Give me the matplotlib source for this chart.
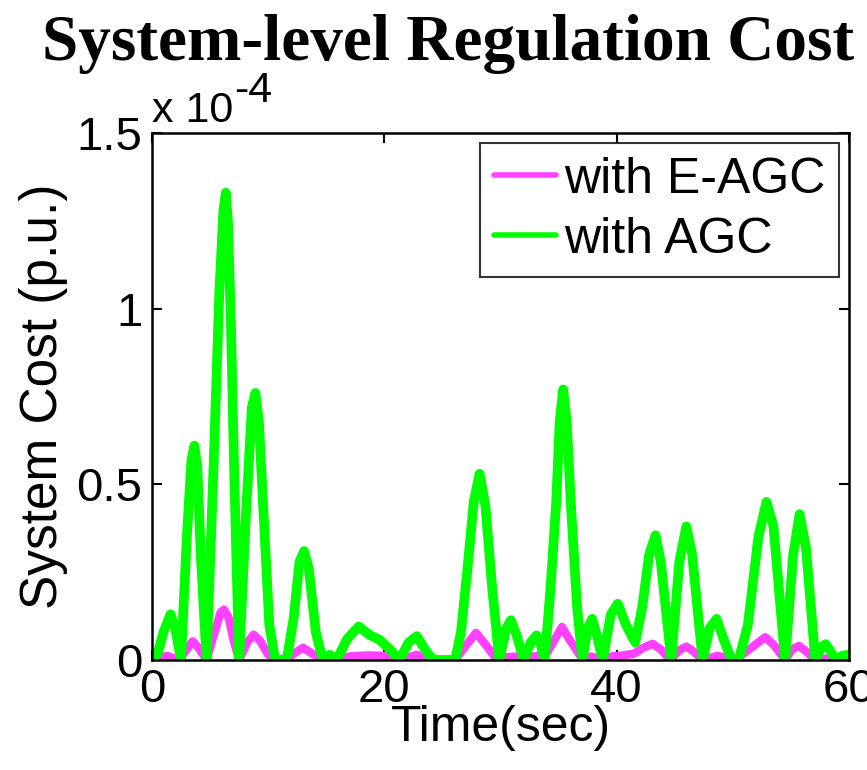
import matplotlib
matplotlib.use("Agg")
import matplotlib.pyplot as plt

# time (s) and cost values (in units of 1e-4 p.u.)
t_agc = [0, 0.5, 1.0, 1.6, 2.0, 2.5, 3.0, 3.4, 3.65, 3.9, 4.2, 4.7, 5.3, 5.8, 6.15,
         6.35, 6.55, 6.8, 7.1, 7.5, 8.1, 8.6, 8.9, 9.2, 9.6, 10.1, 10.6, 11.6, 12.2,
         12.7, 13.1, 13.5, 14.1, 14.7, 15.3, 15.9, 16.8, 17.8, 18.8, 19.6, 20.5, 21.3,
         22.1, 22.8, 23.5, 24.2, 26.1, 26.6, 27.1, 27.7, 28.2, 28.7, 29.3, 29.9, 30.5,
         30.9, 31.4, 32.0, 32.6, 33.1, 33.5, 33.8, 34.3, 34.8, 35.1, 35.4, 35.7, 36.1,
         36.6, 37.05, 37.5, 37.9, 38.3, 38.8, 39.5, 40.1, 40.8, 41.6, 42.2, 42.8, 43.35,
         43.8, 44.7, 45.4, 46.0, 46.5, 47.4, 48.0, 48.6, 49.2, 49.9, 50.5, 51.3, 52.2,
         52.9, 53.5, 54.5, 55.2, 55.75, 56.3, 57.1, 57.6, 58.0, 58.5, 58.9, 59.4, 60.0]
cost_agc = [0.0, 0.02, 0.08, 0.13, 0.09, 0.0, 0.35, 0.57, 0.61, 0.55, 0.3, 0.0, 0.55,
            1.05, 1.28, 1.33, 1.24, 0.95, 0.5, 0.0, 0.42, 0.72, 0.76, 0.68, 0.42, 0.1,
            0.0, 0.0, 0.12, 0.28, 0.31, 0.26, 0.08, 0.0, 0.015, 0.0, 0.06, 0.095, 0.07,
            0.057, 0.03, 0.0, 0.05, 0.068, 0.03, 0.0, 0.0, 0.08, 0.24, 0.45, 0.53, 0.44,
            0.2, 0.0, 0.09, 0.113, 0.07, 0.0, 0.05, 0.07, 0.04, 0.0, 0.2, 0.45, 0.68,
            0.77, 0.68, 0.42, 0.15, 0.0, 0.09, 0.117, 0.07, 0.0, 0.13, 0.16, 0.1, 0.05,
            0.15, 0.3, 0.355, 0.28, 0.0, 0.28, 0.38, 0.3, 0.0, 0.09, 0.117, 0.06, 0.0,
            0.0, 0.1, 0.35, 0.45, 0.38, 0.0, 0.3, 0.415, 0.32, 0.0, 0.035, 0.045, 0.02,
            0.0, 0.012, 0.015]

t_eagc = [0, 0.7, 1.3, 2.3, 3.0, 3.5, 4.0, 4.7, 5.4, 5.9, 6.2, 6.6, 7.0, 7.5, 8.2,
          8.75, 9.3, 10.0, 10.7, 11.6, 12.3, 13.0, 13.7, 14.7, 15.5, 16.0, 17.0, 18.5,
          20.0, 20.8, 21.3, 22.8, 23.9, 26.1, 27.0, 27.9, 28.8, 29.7, 30.5, 31.5, 33.0,
          34.0, 34.7, 35.3, 35.9, 37.1, 37.8, 38.8, 39.5, 40.5, 41.5, 42.3, 43.1, 43.8,
          44.6, 45.4, 46.0, 46.6, 47.4, 48.7, 50.2, 51.2, 52.8, 53.6, 54.5, 55.1, 55.7,
          56.3, 57.1, 58.0, 60.0]
cost_eagc = [0.0, 0.005, 0.012, 0.0, 0.03, 0.053, 0.035, 0.0, 0.08, 0.135, 0.143, 0.12,
             0.06, 0.0, 0.05, 0.072, 0.055, 0.015, 0.003, 0.003, 0.02, 0.035, 0.02, 0.0,
             0.004, 0.0, 0.01, 0.013, 0.012, 0.008, 0.0, 0.015, 0.0, 0.0, 0.04, 0.077,
             0.04, 0.0, 0.008, 0.01, 0.01, 0.02, 0.06, 0.094, 0.06, 0.0, 0.01, 0.0, 0.01,
             0.013, 0.018, 0.035, 0.046, 0.03, 0.0, 0.028, 0.038, 0.025, 0.0, 0.012, 0.0,
             0.025, 0.065, 0.04, 0.0, 0.03, 0.04, 0.025, 0.0, 0.004, 0.004]

x_ticks = [0, 20, 40, 60]
x_tick_labels = ["0", "20", "40", "60"]
y_ticks = [0, 0.5, 1.0, 1.5]
y_tick_labels = ["0", "0.5", "1", "1.5"]

SANS = ["Liberation Sans", "DejaVu Sans"]
SERIF = ["Liberation Serif", "DejaVu Serif"]

fig = plt.figure(figsize=(8.67, 7.70), dpi=100)
ax = fig.add_axes([0.1753, 0.1429, 0.8039, 0.6844])

ax.plot(t_eagc, cost_eagc, color="#ff40ff", lw=6.0, label="with E-AGC",
        solid_joinstyle="round", solid_capstyle="round")
ax.plot(t_agc, cost_agc, color="#00ff00", lw=7.0, label="with AGC",
        solid_joinstyle="round", solid_capstyle="round")

ax.set_xlim(0, 60)
ax.set_ylim(0, 1.5)
ax.set_xticks(x_ticks)
ax.set_xticklabels(x_tick_labels, fontfamily=SANS, fontsize=34)
ax.set_yticks(y_ticks)
ax.set_yticklabels(y_tick_labels, fontfamily=SANS, fontsize=34)
ax.tick_params(direction="in", length=7, width=1.5, top=True, right=True)
ax.tick_params(axis="x", pad=6)
ax.tick_params(axis="y", pad=7)
for s in ax.spines.values():
    s.set_linewidth(1.8)

ax.set_xlabel("Time(sec)", fontfamily=SANS, fontsize=36, labelpad=-5)
ax.set_ylabel("System Cost (p.u.)", fontfamily=SANS, fontsize=37, labelpad=6)

fig.text(0.517, 0.922, "System-level Regulation Cost", ha="center", va="baseline",
         fontfamily=SERIF, fontweight="bold", fontsize=47)

off = ax.text(0.0, 1.003, "x 10", transform=ax.transAxes, ha="left", va="bottom",
              fontfamily=SANS, fontsize=31)
ax.annotate("-4", xy=(1.0, 1.0), xycoords=off, xytext=(1, 0),
            textcoords="offset points", ha="left", va="center",
            fontfamily=SANS, fontsize=31)

leg = ax.legend(loc="upper right", prop={"family": SANS, "size": 36},
                frameon=True, fancybox=False, edgecolor="black",
                handlelength=1.25, handletextpad=0.15, borderpad=0.28,
                labelspacing=0.28, borderaxespad=0.2)
leg.get_frame().set_linewidth(1.5)
for line in leg.get_lines():
    line.set_linewidth(4.0)

fig.savefig("out.png", dpi=100)
